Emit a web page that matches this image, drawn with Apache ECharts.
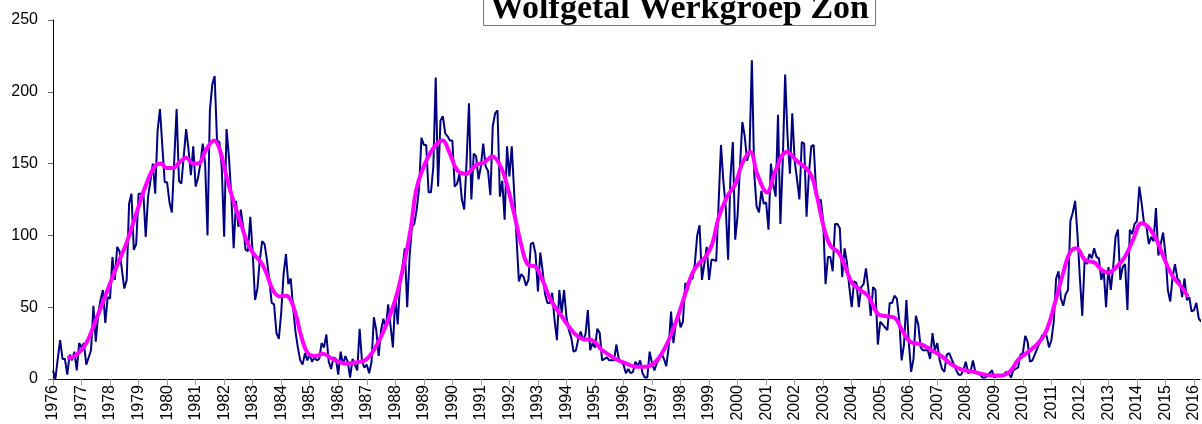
<!DOCTYPE html>
<html lang="nl">
<head>
    <meta charset="UTF-8">
    <title>Wolfgetal Werkgroep Zon</title>
    <script src="https://cdn.jsdelivr.net/npm/echarts@6/dist/echarts.min.js"></script>
    <style>
        html, body { margin: 0; padding: 0; background: #fff; }
        #chart { width: 1202px; height: 424px; }
    </style>
</head>
<body>
<div id="chart"></div>
<script>
    // maandelijkse wolfgetallen, een rij per jaar (jan..dec), vanaf 1976
    var wolfMonthly = [
        [6, 0, 14, 27, 14, 14, 3, 17, 13, 19, 6, 25],             // 1976
        [22, 25, 10, 15, 20, 51, 26, 45, 55, 62, 39, 57],         // 1977
        [56, 85, 69, 92, 89, 76, 63, 69, 122, 129, 90, 94],       // 1978
        [129, 129, 130, 99, 127, 138, 150, 129, 173, 188, 162, 137], // 1979
        [137, 123, 116, 152, 188, 138, 136, 155, 174, 160, 142, 162], // 1980
        [134, 140, 150, 164, 150, 100, 187, 205, 211, 166, 165, 147], // 1981
        [99, 174, 155, 128, 91, 124, 106, 118, 106, 90, 89, 113],  // 1982
        [88, 55, 63, 83, 96, 94, 83, 69, 53, 52, 32, 28],          // 1983
        [46, 73, 87, 66, 70, 50, 33, 22, 13, 10, 18, 13],          // 1984
        [17, 12, 15, 13, 14, 25, 22, 31, 12, 7, 15, 14],           // 1985
        [3, 19, 10, 16, 12, 1, 14, 10, 6, 35, 12, 8],              // 1986
        [10, 4, 12, 43, 34, 16, 34, 42, 35, 52, 37, 22],           // 1987
        [58, 38, 66, 78, 91, 50, 85, 106, 108, 118, 133, 168],     // 1988
        [163, 163, 130, 130, 148, 210, 134, 180, 183, 171, 169, 166], // 1989
        [166, 134, 136, 143, 125, 118, 152, 192, 125, 157, 155, 139], // 1990
        [148, 164, 148, 145, 128, 176, 185, 187, 127, 138, 111, 162], // 1991
        [141, 162, 130, 98, 68, 73, 71, 65, 69, 94, 95, 87],       // 1992
        [61, 88, 75, 59, 53, 53, 60, 41, 27, 62, 46, 62],          // 1993
        [43, 34, 29, 19, 20, 28, 33, 27, 31, 48, 20, 25],          // 1994
        [22, 35, 32, 13, 14, 15, 13, 13, 13, 24, 14, 12],          // 1995
        [10, 4, 7, 4, 5, 12, 9, 13, 4, 1, 1, 19],                  // 1996
        [11, 6, 11, 14, 18, 14, 9, 22, 47, 25, 39, 46],            // 1997
        [36, 40, 67, 62, 69, 70, 80, 100, 107, 69, 80, 92],        // 1998
        [69, 83, 83, 82, 122, 163, 138, 120, 83, 141, 165, 97],    // 1999
        [114, 148, 179, 169, 152, 158, 222, 143, 120, 116, 131, 122], // 2000
        [123, 104, 150, 136, 127, 184, 108, 152, 212, 169, 143, 185], // 2001
        [152, 139, 125, 165, 164, 113, 143, 162, 163, 132, 123, 125], // 2002
        [110, 66, 85, 85, 75, 108, 108, 105, 71, 91, 81, 64],      // 2003
        [50, 68, 67, 50, 64, 66, 77, 63, 44, 64, 62, 24],          // 2004
        [40, 38, 36, 34, 53, 53, 58, 56, 41, 13, 24, 55],          // 2005
        [26, 5, 14, 44, 38, 22, 20, 20, 20, 14, 32, 20],           // 2006
        [25, 13, 7, 5, 17, 18, 14, 10, 6, 3, 3, 6],                // 2007
        [12, 4, 5, 13, 5, 4, 3, 1, 1, 2, 4, 6],                    // 2008
        [1, 2, 2, 2, 3, 5, 4, 1, 6, 7, 8, 17],                     // 2009
        [18, 30, 26, 12, 13, 17, 21, 25, 30, 31, 30, 22],          // 2010
        [27, 40, 70, 75, 56, 51, 59, 62, 110, 116, 124, 100],      // 2011
        [70, 44, 83, 80, 87, 84, 91, 85, 84, 69, 76, 50],          // 2012
        [78, 62, 78, 99, 104, 69, 78, 80, 48, 104, 101, 108],      // 2013
        [110, 134, 122, 108, 106, 94, 99, 96, 119, 86, 94, 102],   // 2014
        [87, 62, 54, 71, 80, 70, 68, 57, 70, 55, 57, 47],          // 2015
        [48, 53, 42, 40]                                           // 2016
    ];

    // afgevlakte lijn: maand (geteld vanaf jan 1976) en waarde
    var smoothMonth = [6, 10, 14, 18, 22.5, 26.7, 31, 35, 39.3, 42.8, 45.4, 47.7, 50.5, 53.3, 56, 59, 61, 64.5, 67.8, 70.1,
        73, 75.7, 78.5, 81.3, 84, 87.6, 89.7, 92.5, 95.3, 98, 100, 102.3, 104.4, 107.2, 110.7, 113.5, 117, 119.8, 123.3, 127.5,
        131.7, 136, 140, 144.3, 148.5, 150.6, 152.7, 155.5, 159.7, 163.9, 166.7, 170.2, 173.8, 178, 181.5, 184.9, 187.7, 190.5,
        194, 196.9, 199.6, 203.1, 205.9, 209.4, 214.3, 219.2, 222.7, 226.9, 231.1, 236.7, 240.9, 245.1, 249.3, 253.5, 257.7,
        261.9, 266.1, 268.9, 271.7, 274.5, 277.3, 280.1, 283.6, 287.1, 289.9, 293.4, 296.2, 300.4, 303.9, 308.7, 312.9, 318.6,
        321.4, 324.2, 327, 330.5, 333.3, 336.1, 339.6, 343.1, 347.3, 351.5, 354.3, 357.1, 360.6, 365.5, 369.7, 373.9, 378.1,
        382.3, 386.5, 390.7, 394.9, 399.1, 402.6, 406.1, 410.3, 414.5, 418, 421.5, 425, 427.8, 430.6, 434.1, 438.3, 441.1,
        443.9, 447.4, 450.9, 454.4, 457.9, 460.7, 464.2, 467.7, 471.2, 474.6, 477.4];
    var smoothValue = [14.6, 17, 25, 41, 60, 78, 95, 115, 136, 148, 150, 147, 147, 151, 154, 150, 150, 160, 166, 160,
        141, 125, 111, 97, 88, 81, 74, 62, 57.5, 58, 55, 44, 30, 18, 16, 17.6, 14.6, 12.3, 10.7, 11.6,
        13.5, 23, 37, 57, 87, 106, 131, 146, 160, 166, 158, 145, 143, 149, 151, 155, 150, 138,
        115, 94, 80, 78, 69, 55, 43, 32, 28, 27, 20, 14, 11, 8.6, 8.6, 12, 22.5,
        39, 60, 73.5, 80.5, 85, 94, 113, 127, 136, 150, 158, 143, 130, 145, 158, 152, 143,
        127, 106, 93, 88, 78, 67, 62, 57.5, 45, 43.6, 42.4, 34.3, 26, 24, 20, 15.8, 10,
        6.5, 5.3, 3.5, 2.5, 2.5, 5.3, 13.5, 19, 25, 34, 53, 74, 88, 91, 83, 81, 76,
        74, 78, 85, 97, 108.5, 106, 97, 83, 71, 64.5, 57.5];

    var yTicks = [0, 50, 100, 150, 200, 250];
    var startYear = 1976;

    var chart = echarts.init(document.getElementById('chart'));

    var raw = [];
    var k = 0;
    wolfMonthly.forEach(function (row) {
        row.forEach(function (v) {
            raw.push([startYear + k / 12, v]);
            k++;
        });
    });
    var smooth = smoothMonth.map(function (m, i) {
        return [startYear + m / 12, smoothValue[i]];
    });

    var option = {
        animation: false,
        backgroundColor: '#fff',
        title: {
            text: 'Wolfgetal Werkgroep Zon',
            left: 483,
            top: -8,
            padding: [3, 7, 0, 7],
            borderWidth: 1,
            borderColor: '#777',
            backgroundColor: '#fff',
            textStyle: {
                fontFamily: '"Liberation Serif", "Times New Roman", serif',
                fontWeight: 'bold',
                fontSize: 34,
                lineHeight: 28,
                color: '#000'
            }
        },
        grid: { left: 53, right: 0, top: 20, bottom: 45 },
        xAxis: {
            type: 'value',
            min: startYear,
            max: startYear + 1149 / 28.575,
            interval: 1,
            axisLine: { show: true, lineStyle: { color: '#000', width: 1 } },
            axisTick: { show: true, length: 6, lineStyle: { color: '#999' } },
            splitLine: { show: false },
            axisLabel: {
                rotate: 90,
                margin: 6,
                fontSize: 16,
                fontFamily: '"Liberation Sans", Arial, sans-serif',
                color: '#000',
                showMaxLabel: false,
                formatter: function (v) {
                    return Math.abs(v - Math.round(v)) < 1e-6 ? String(Math.round(v)) : '';
                }
            }
        },
        yAxis: {
            type: 'value',
            min: yTicks[0],
            max: yTicks[yTicks.length - 1],
            interval: 50,
            axisLine: { show: true, lineStyle: { color: '#000', width: 1 } },
            axisTick: { show: true, length: 5, lineStyle: { color: '#666' } },
            splitLine: { show: false },
            axisLabel: {
                margin: 15,
                fontSize: 16,
                fontFamily: '"Liberation Sans", Arial, sans-serif',
                color: '#000'
            }
        },
        series: [
            {
                name: 'maand',
                type: 'line',
                data: raw,
                showSymbol: false,
                symbol: 'none',
                lineStyle: { color: '#000080', width: 2 },
                z: 2
            },
            {
                name: 'afgevlakt',
                type: 'line',
                data: smooth,
                showSymbol: false,
                symbol: 'none',
                smooth: 0.4,
                lineStyle: { color: '#ff00ff', width: 4 },
                z: 3
            }
        ]
    };
    chart.setOption(option);
</script>
</body>
</html>
